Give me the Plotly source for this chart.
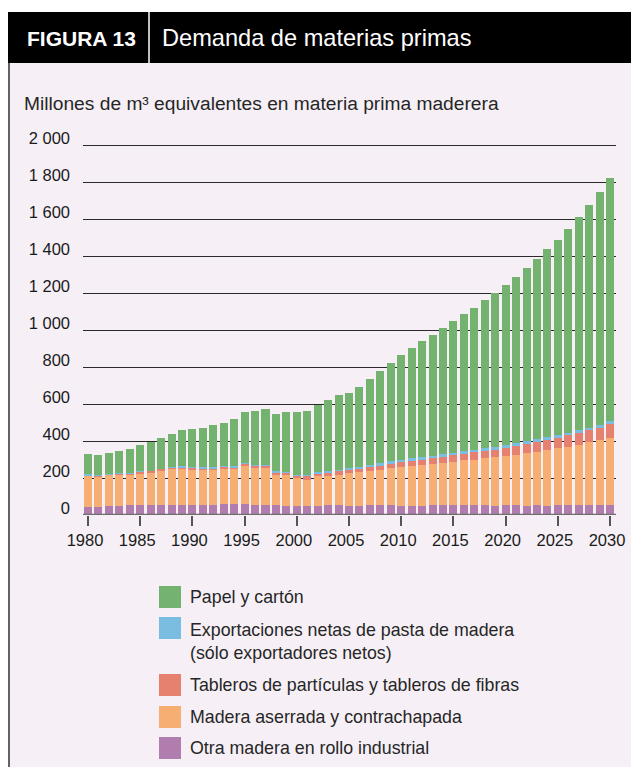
import plotly.graph_objects as go

# --- data (millions of m3 roundwood equivalent) ---
years = list(range(1980, 2031))

otra = [42, 42, 47, 47, 52, 52, 52, 52, 52, 52,
        52, 52, 52, 58, 58, 58, 53, 53, 53, 48,
        48, 48, 48, 54, 54, 48, 48, 54, 54, 54,
        47, 47, 47, 52, 52, 52, 52, 52, 52, 47,
        52, 52, 47, 52, 47, 52, 52, 52, 52, 52, 52]
aserrada = [173, 168, 172, 174, 169, 175, 178, 189, 200, 202,
            195, 196, 196, 194, 189, 212, 200, 200, 162, 166,
            152, 141, 163, 157, 162, 179, 184, 184, 189, 200,
            210, 216, 221, 222, 227, 232, 243, 243, 254, 264,
            265, 270, 286, 286, 302, 308, 313, 324, 340, 351, 362]
tableros = [1, 1, 1, 5, 5, 8, 8, 8, 7, 5,
            9, 6, 6, 10, 12, 8, 17, 17, 16, 14,
            16, 22, 16, 21, 22, 18, 22, 23, 22, 23,
            27, 27, 27, 32, 32, 38, 33, 43, 38, 44,
            43, 49, 49, 54, 54, 54, 65, 65, 65, 70, 76]
pasta = [4, 5, 1, 1, 1, 1, 1, 1, 1, 4,
         3, 3, 3, 2, 4, 3, 1, 1, 5, 3,
         2, 5, 5, 6, 5, 9, 5, 9, 16, 15,
         11, 16, 16, 11, 17, 11, 16, 11, 16, 10,
         16, 16, 16, 17, 16, 16, 11, 16, 11, 11, 16]
papel = [108, 106, 112, 117, 128, 140, 153, 164, 176, 194,
         204, 216, 227, 236, 254, 274, 290, 300, 309, 324,
         338, 346, 362, 383, 405, 405, 432, 464, 497, 529,
         569, 596, 629, 655, 685, 718, 745, 772, 804, 837,
         869, 901, 939, 977, 1021, 1059, 1107, 1156, 1210, 1264, 1318]

series = [
    ("Otra madera en rollo industrial", otra, "#b17dae"),
    ("Madera aserrada y contrachapada", aserrada, "#f6ae73"),
    ("Tableros de partículas y tableros de fibras", tableros, "#e6806f"),
    ("Exportaciones netas de pasta de madera<br>(sólo exportadores netos)", pasta, "#7bbde0"),
    ("Papel y cartón", papel, "#73b26f"),
]

y_ticks = list(range(0, 2001, 200))
y_ticktext = [f"{v:,}".replace(",", " ") for v in y_ticks]
x_ticks = list(range(1980, 2031, 5))

W, H = 631, 767
L, R, T, B = 83, 15, 141, 767 - 515
PW, PH = W - L - R, H - T - B
Y_TOP = PH / 0.185  # 0.185 px per unit, a little headroom so the 2 000 gridline shows
BG = "#f6f0f6"
FONT = "Liberation Sans, Arial, sans-serif"


# helpers: page pixel -> paper coords
def px(x):
    return (x - L) / PW


def py(y):
    return (H - B - y) / PH


fig = go.Figure()
for name, vals, color in series:
    fig.add_trace(go.Bar(x=years, y=vals, name=name, marker_color=color,
                         marker_line_width=0, width=0.77))

shapes = [
    # white border above and left of the box, frame line on the left
    dict(type="rect", x0=px(0), x1=px(W), y0=py(0), y1=py(12), fillcolor="white", line_width=0),
    dict(type="rect", x0=px(0), x1=px(8), y0=py(0), y1=py(H), fillcolor="white", line_width=0),
    dict(type="line", x0=px(9), x1=px(9), y0=py(62), y1=py(H), line=dict(color="#333", width=1.5)),
    # header band
    dict(type="rect", x0=px(8), x1=px(W), y0=py(12), y1=py(63), fillcolor="black", line_width=0),
    dict(type="line", x0=px(149), x1=px(149), y0=py(12), y1=py(63), line=dict(color="white", width=1.5)),
    # baseline
    dict(type="line", xref="paper", yref="y", x0=0, x1=1, y0=0, y1=0,
         line=dict(color="#6e6e6e", width=2.5), layer="above"),
]

annotations = [
    dict(text="<b>FIGURA 13</b>", x=px(25), y=py(38), xanchor="left", yanchor="middle",
         font=dict(size=21, color="white", family=FONT)),
    dict(text="Demanda de materias primas", x=px(160), y=py(38), xanchor="left", yanchor="middle",
         font=dict(size=23.6, color="white", family=FONT)),
    dict(text="Millones de m³ equivalentes en materia prima maderera", x=px(22), y=py(103),
         xanchor="left", yanchor="middle", font=dict(size=19.2, color="#262626", family=FONT)),
]

# hand-drawn legend, top entry first
leg_y = [597, 628, 685, 717, 748]
for (name, _, color), yc in zip(reversed(series), leg_y):
    shapes.append(dict(type="rect", x0=px(159), x1=px(181), y0=py(yc - 11), y1=py(yc + 11),
                       fillcolor=color, line_width=0))
    two_line = "<br>" in name
    annotations.append(dict(text=name, x=px(188), y=py(yc - 10 if two_line else yc),
                            xanchor="left", yanchor="top" if two_line else "middle", align="left",
                            font=dict(size=17.8, color="#262626", family=FONT)))

for a in annotations:
    a.update(xref="paper", yref="paper", showarrow=False)
for s in shapes:
    s.setdefault("xref", "paper")
    s.setdefault("yref", "paper")
    s.setdefault("layer", "below")

fig.update_layout(
    barmode="stack",
    width=W, height=H, autosize=False,
    margin=dict(l=L, r=R, t=T, b=B, pad=0),
    paper_bgcolor=BG, plot_bgcolor=BG,
    showlegend=False,
    font=dict(family=FONT, size=16.5, color="#1a1a1a"),
    shapes=shapes, annotations=annotations,
    xaxis=dict(range=[1979.52, 2030.57], tickvals=x_ticks, ticks="outside", ticklen=10,
               tickwidth=1.5, tickcolor="#555", showgrid=False, zeroline=False,
               showline=False, fixedrange=True, automargin=False, ticklabelshift=-3),
    yaxis=dict(range=[0, Y_TOP], tickvals=y_ticks, ticktext=y_ticktext, showgrid=True,
               gridcolor="#2a2a2a", gridwidth=1, zeroline=False, showline=False,
               ticks="", ticklabelstandoff=12, ticklabelshift=-7, fixedrange=True,
               automargin=False),
)

# drop the default body margin so the 631x767 figure fills the window exactly
fig.write_html("out.html", config={"displayModeBar": False},
               post_script="document.body.style.margin = '0';")
